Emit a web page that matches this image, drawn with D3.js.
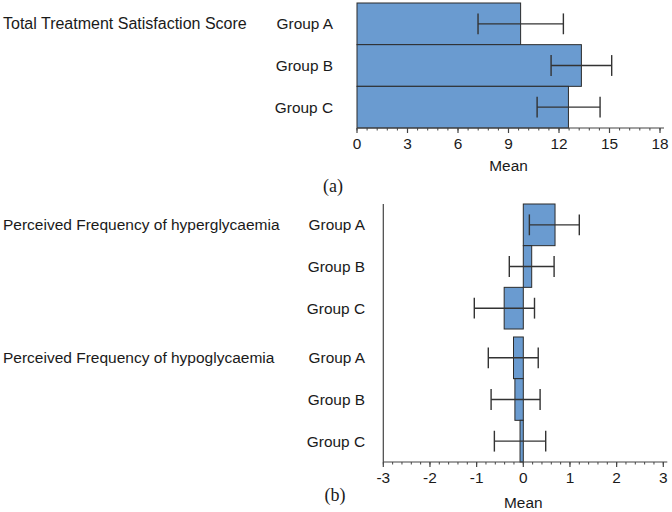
<!DOCTYPE html>
<html><head><meta charset="utf-8">
<script src="https://cdn.jsdelivr.net/npm/d3@7"></script>
<style>
body{margin:0;background:#fff;}
text{font-family:"Liberation Sans",Arial,sans-serif;fill:#1a1a1a;}
</style></head>
<body><svg id="c" width="672" height="512"></svg>
<script>
const groups = ["Group A", "Group B", "Group C"];
const satMean = [9.72, 13.33, 12.56];
const satLow = [7.19, 11.53, 10.70];
const satHigh = [12.26, 15.13, 14.44];
const sections = ["Perceived Frequency of hyperglycaemia", "Perceived Frequency of hypoglycaemia"];
const hyperMean = [0.68, 0.18, -0.41];
const hyperLow = [0.13, -0.30, -1.05];
const hyperHigh = [1.20, 0.66, 0.24];
const hypoMean = [-0.21, -0.18, -0.07];
const hypoLow = [-0.75, -0.69, -0.62];
const hypoHigh = [0.32, 0.36, 0.48];
const ticksA = [0, 3, 6, 9, 12, 15, 18];
const ticksB = [-3, -2, -1, 0, 1, 2, 3];

const barFill = "#6a9bd0", barStroke = "#2b2b2b", errCol = "#333";
const FS = 15.4;
const svg = d3.select("#c");

function drawAxis(g, x, y0, majors, step) {
  const [d0, d1] = x.domain();
  g.append("line").attr("x1", x(d0)).attr("x2", x(d1) + 4).attr("y1", y0).attr("y2", y0)
    .attr("stroke", "#444").attr("stroke-width", 1.2);
  const minors = d3.range(d0, d1 + 1e-9, step / 5);
  g.selectAll(null).data(minors).join("line")
    .attr("x1", d => x(d)).attr("x2", d => x(d)).attr("y1", y0).attr("y2", y0 + 2.5)
    .attr("stroke", "#444").attr("stroke-width", 1);
  g.selectAll(null).data(majors).join("line")
    .attr("x1", d => x(d)).attr("x2", d => x(d)).attr("y1", y0).attr("y2", y0 + 5)
    .attr("stroke", "#444").attr("stroke-width", 1.2);
  g.selectAll(null).data(majors).join("text")
    .attr("x", d => x(d)).attr("y", y0 + 21).attr("text-anchor", "middle")
    .attr("font-size", FS).text(d => d);
}

function drawBars(g, x, y, means, lows, highs) {
  const bw = y.bandwidth();
  groups.forEach((grp, i) => {
    const v = means[i];
    g.append("rect").attr("x", x(Math.min(0, v))).attr("width", Math.abs(x(v) - x(0)))
      .attr("y", y(grp)).attr("height", bw)
      .attr("fill", barFill).attr("stroke", barStroke).attr("stroke-width", 1);
  });
  groups.forEach((grp, i) => {
    const cy = y(grp) + bw / 2, h = bw * 0.25;
    g.append("line").attr("x1", x(lows[i])).attr("x2", x(highs[i])).attr("y1", cy).attr("y2", cy)
      .attr("stroke", errCol).attr("stroke-width", 1.4);
    [lows[i], highs[i]].forEach(v => {
      g.append("line").attr("x1", x(v)).attr("x2", x(v)).attr("y1", cy - h).attr("y2", cy + h)
        .attr("stroke", errCol).attr("stroke-width", 1.4);
    });
  });
}

function drawLabels(g, y, xEnd) {
  groups.forEach(grp => {
    g.append("text").attr("x", xEnd).attr("y", y(grp) + y.bandwidth() / 2 + 5.5)
      .attr("text-anchor", "end").attr("font-size", FS).text(grp);
  });
}

// ---- Panel (a)
const xa = d3.scaleLinear().domain([0, 18]).range([357, 660]);
const ya = d3.scaleBand().domain(groups).range([3, 128]).padding(0);
const ga = svg.append("g");
drawBars(ga, xa, ya, satMean, satLow, satHigh);
drawAxis(ga, xa, 128, ticksA, 3);
drawLabels(ga, ya, 333);
ga.append("text").attr("x", 3).attr("y", ya(groups[0]) + ya.bandwidth() / 2 + 5.5)
  .attr("font-size", 16).text("Total Treatment Satisfaction Score");
ga.append("text").attr("x", xa(9)).attr("y", 171).attr("text-anchor", "middle")
  .attr("font-size", FS).text("Mean");
svg.append("text").attr("x", 333).attr("y", 192).attr("text-anchor", "middle")
  .style("font-family", "'Liberation Serif','Times New Roman',serif").attr("font-size", 18).text("(a)");

// ---- Panel (b)
const xb = d3.scaleLinear().domain([-3, 3]).range([383.3, 663.3]);
const ys = d3.scaleBand().domain(sections).range([204, 462]).paddingInner(0.06).paddingOuter(0);
const gb = svg.append("g");
gb.append("line").attr("x1", xb(-3)).attr("x2", xb(-3)).attr("y1", 204).attr("y2", 462)
  .attr("stroke", "#444").attr("stroke-width", 1.2);
[[hyperMean, hyperLow, hyperHigh], [hypoMean, hypoLow, hypoHigh]].forEach((d, si) => {
  const sec = sections[si];
  const yb = d3.scaleBand().domain(groups).range([ys(sec), ys(sec) + ys.bandwidth()]).padding(0);
  drawBars(gb, xb, yb, d[0], d[1], d[2]);
  drawLabels(gb, yb, 365);
  gb.append("text").attr("x", 3).attr("y", yb(groups[0]) + yb.bandwidth() / 2 + 5.5)
    .attr("font-size", 15.5).text(sec);
});
drawAxis(gb, xb, 462, ticksB, 1);
gb.append("text").attr("x", xb(0)).attr("y", 508).attr("text-anchor", "middle")
  .attr("font-size", FS).text("Mean");
svg.append("text").attr("x", 335).attr("y", 501).attr("text-anchor", "middle")
  .style("font-family", "'Liberation Serif','Times New Roman',serif").attr("font-size", 18).text("(b)");
</script></body></html>
